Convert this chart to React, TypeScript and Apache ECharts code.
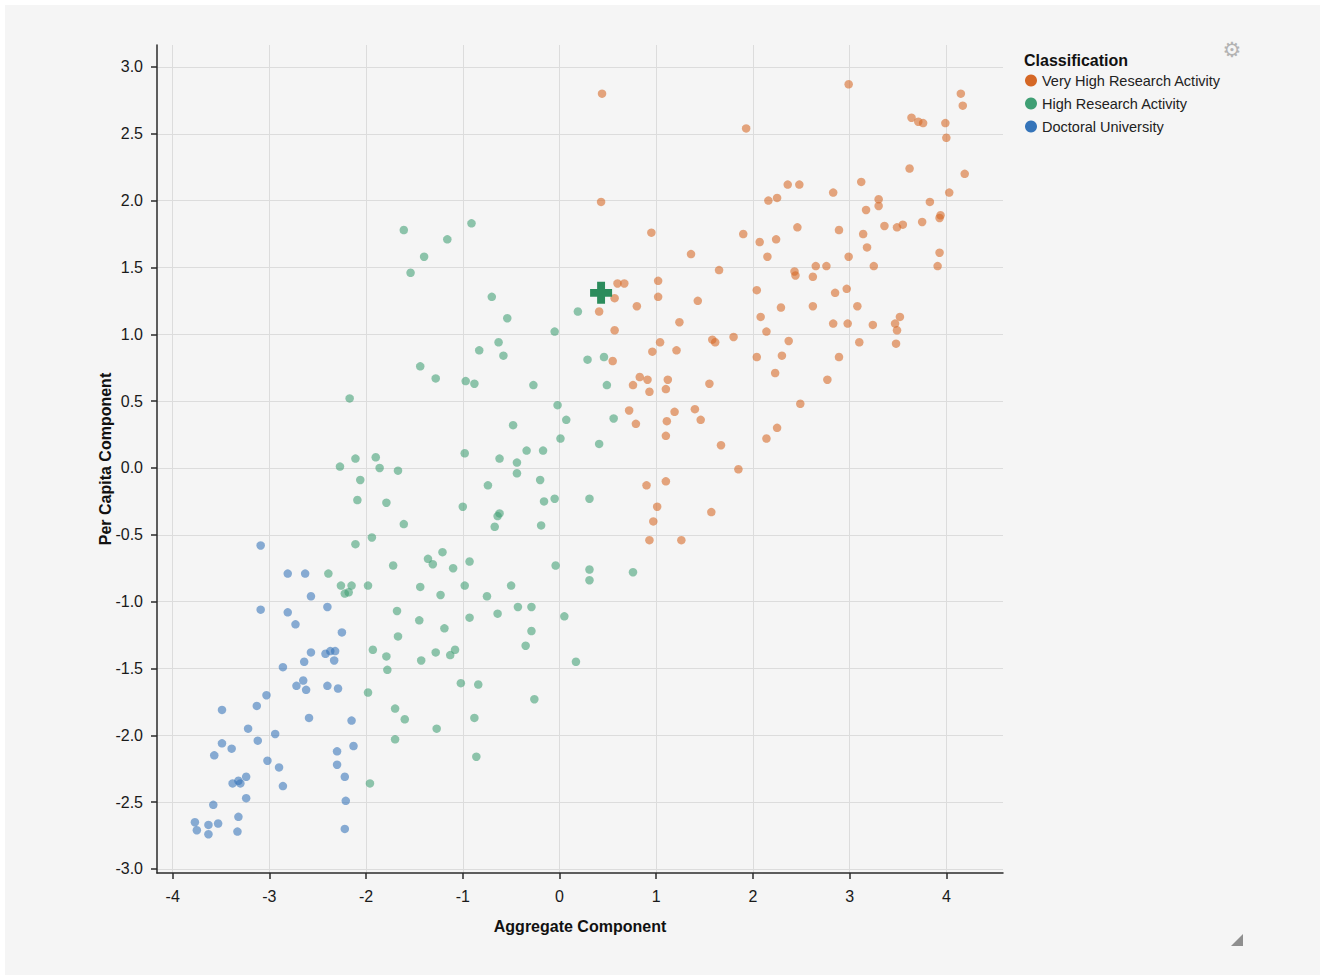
import React, { useEffect, useRef } from "react";
import * as echarts from "echarts";

const categories = ["Very High Research Activity", "High Research Activity", "Doctoral University"];

const xRange = [-4.162, 4.586];
const yRange = [-3.03, 3.164];

const veryHighX = [
  0.44, 2.99, 1.93, 0.43, 2.36, 2.48, 2.83, 2.16, 2.25, 3.12, 0.95, 1.9, 2.07, 2.24, 2.46, 2.89, 1.36, 2.15, 2.99, 1.65,
  2.43, 2.44, 2.65, 2.76, 2.62, 0.6, 0.67, 1.02, 0.57, 1.02, 0.8, 1.43, 2.04, 2.85, 2.97, 0.41, 2.29, 2.62, 3.08,
  0.57, 1.24, 2.08, 2.14, 2.83, 2.98, 3.1, 1.04, 1.58, 1.61, 1.8, 2.37, 0.96, 1.21, 0.55, 2.04, 2.3, 2.89, 2.23, 2.77,
  0.83, 0.91, 0.76, 1.12, 1.1, 0.93, 1.55, 2.49, 0.72, 0.79, 1.19, 1.4, 1.46, 1.11, 1.1, 2.25, 2.14, 1.67, 1.85, 0.9,
  1.1, 1.01, 1.57, 0.97, 0.93, 1.26,
  4.15, 4.17, 3.64, 3.71, 3.76, 3.99, 4.0, 3.62, 4.19, 4.03, 3.3, 3.3, 3.17, 3.83, 3.75, 3.93, 3.94, 3.36, 3.49, 3.55,
  3.14, 3.18, 3.93, 3.25, 3.91, 3.24, 3.47, 3.52, 3.49, 3.48,
];
const veryHighY = [
  2.8, 2.87, 2.54, 1.99, 2.12, 2.12, 2.06, 2.0, 2.02, 2.14, 1.76, 1.75, 1.69, 1.71, 1.8, 1.78, 1.6, 1.58, 1.58, 1.48,
  1.47, 1.44, 1.51, 1.51, 1.43, 1.38, 1.38, 1.4, 1.27, 1.28, 1.21, 1.25, 1.33, 1.31, 1.34, 1.17, 1.2, 1.21, 1.21,
  1.03, 1.09, 1.13, 1.02, 1.08, 1.08, 0.94, 0.94, 0.96, 0.94, 0.98, 0.95, 0.87, 0.88, 0.8, 0.83, 0.84, 0.83, 0.71, 0.66,
  0.68, 0.66, 0.62, 0.66, 0.59, 0.57, 0.63, 0.48, 0.43, 0.33, 0.42, 0.44, 0.36, 0.35, 0.24, 0.3, 0.22, 0.17, -0.01, -0.13,
  -0.1, -0.29, -0.33, -0.4, -0.54, -0.54,
  2.8, 2.71, 2.62, 2.59, 2.58, 2.58, 2.47, 2.24, 2.2, 2.06, 2.01, 1.96, 1.93, 1.99, 1.84, 1.87, 1.89, 1.81, 1.8, 1.82,
  1.75, 1.65, 1.61, 1.51, 1.51, 1.07, 1.08, 1.13, 1.03, 0.93,
];

const highX = [
  -2.09, -1.79, -1.61, -1.94, -2.11, -1.72, -1.36, -1.31, -1.21, -2.39, -2.26, -2.15, -2.22, -2.18, -1.98, -1.44, -1.23,
  -1.68, -1.45, -1.19, -1.67, -1.93, -1.79, -1.43, -1.28, -1.78, -1.98, -1.7, -1.6, -1.27, -1.7, -1.96,
  -2.27, -2.11, -1.9, -1.86, -1.67, -2.06, -0.98, -0.74, -0.62, -0.44, -0.44, -0.34, -0.17, -0.2, 0.01, 0.41,
  -1.61, -0.91, -1.16, -1.4, -1.54, -0.7, -0.54, -0.05, 0.19, -0.63, -0.83, -0.58, -1.44, -1.28, -0.97, -0.88, -0.27,
  0.29, 0.46, 0.49, -2.17, -0.02, 0.07, -0.48, 0.56,
  -1.0, -0.62, -0.64, -0.67, -0.16, -0.05, 0.31, -0.19, -0.93, -1.1, -0.04, 0.31, 0.31, -0.98, -0.5, -0.75, -0.93,
  -0.64, -0.43, -0.29, 0.05, -0.29, -0.35, -1.13, -1.08, 0.17, -1.02, -0.84, -0.26, -0.88, -0.86, 0.76,
];
const highY = [
  -0.24, -0.26, -0.42, -0.52, -0.57, -0.73, -0.68, -0.72, -0.63, -0.79, -0.88, -0.88, -0.94, -0.93, -0.88, -0.89, -0.95,
  -1.07, -1.14, -1.2, -1.26, -1.36, -1.41, -1.44, -1.38, -1.51, -1.68, -1.8, -1.88, -1.95, -2.03, -2.36,
  0.01, 0.07, 0.08, 0.0, -0.02, -0.09, 0.11, -0.13, 0.07, 0.04, -0.04, 0.13, 0.13, -0.09, 0.22, 0.18,
  1.78, 1.83, 1.71, 1.58, 1.46, 1.28, 1.12, 1.02, 1.17, 0.94, 0.88, 0.84, 0.76, 0.67, 0.65, 0.63, 0.62,
  0.81, 0.83, 0.62, 0.52, 0.47, 0.36, 0.32, 0.37,
  -0.29, -0.34, -0.36, -0.44, -0.25, -0.23, -0.23, -0.43, -0.7, -0.75, -0.73, -0.76, -0.84, -0.88, -0.88, -0.96, -1.12,
  -1.09, -1.04, -1.04, -1.11, -1.22, -1.33, -1.4, -1.36, -1.45, -1.61, -1.62, -1.73, -1.87, -2.16, -0.78,
];

const doctoralX = [
  -3.09, -2.81, -2.63, -2.57, -3.09, -2.81, -2.73, -2.4, -2.25, -2.57, -2.64, -2.86, -2.42, -2.37, -2.32, -2.33, -2.65,
  -2.72, -2.62, -2.4, -2.29, -3.03, -3.13, -3.49, -2.59, -2.15, -3.22, -3.12, -2.94, -3.49, -3.39, -3.57, -2.13, -2.3,
  -3.02, -2.9, -2.3, -2.22, -3.38, -3.32, -3.3, -3.24, -2.86, -3.24, -2.21, -3.58, -3.32, -3.77, -3.63, -3.53, -3.75,
  -3.63, -3.33, -2.22,
];
const doctoralY = [
  -0.58, -0.79, -0.79, -0.96, -1.06, -1.08, -1.17, -1.04, -1.23, -1.38, -1.45, -1.49, -1.39, -1.37, -1.37, -1.44, -1.59,
  -1.63, -1.66, -1.63, -1.65, -1.7, -1.78, -1.81, -1.87, -1.89, -1.95, -2.04, -1.99, -2.06, -2.1, -2.15, -2.08, -2.12,
  -2.19, -2.24, -2.22, -2.31, -2.36, -2.34, -2.36, -2.31, -2.38, -2.47, -2.49, -2.52, -2.61, -2.65, -2.67, -2.66, -2.71,
  -2.74, -2.72, -2.7,
];

const highlightPoint = [0.43, 1.31];

const FONT = "'Liberation Sans', Arial, Helvetica, sans-serif";
const zip = (xs: number[], ys: number[]) => xs.map((x, i) => [x, ys[i]]);
const CROSS = "path://M6.4,0H13.6V6.4H20V13.6H13.6V20H6.4V13.6H0V6.4H6.4Z";

export default function App() {
  const ref = useRef<HTMLDivElement>(null);
  useEffect(() => {
    document.body.style.margin = "0";
    const chart = echarts.init(ref.current!, null, { renderer: "svg" });
    const axisLineStyle = { color: "#2a2a2a", width: 1.5 };
    const option: any = {
      animation: false,
      backgroundColor: "transparent",
      textStyle: { fontFamily: FONT },
      grid: { left: 152, top: 40, width: 846, height: 828, containLabel: false, outerBoundsMode: "none" },
      xAxis: {
        type: "value",
        min: xRange[0],
        max: xRange[1],
        splitNumber: 8,
        minInterval: 1,
        maxInterval: 1,
        name: "Aggregate Component",
        nameLocation: "middle",
        nameGap: 45,
        nameMoveOverlap: false,
        nameTextStyle: { fontSize: 16, fontWeight: "bold", color: "#111", fontFamily: FONT },
        axisLine: { show: true, onZero: false, lineStyle: axisLineStyle },
        axisTick: { show: true, length: 6, lineStyle: axisLineStyle },
        axisLabel: {
          showMinLabel: false,
          showMaxLabel: false,
          fontSize: 16,
          color: "#1a1a1a",
          margin: 15,
          fontFamily: FONT,
          formatter: (v: number) => String(Math.round(v)),
        },
        splitLine: { show: true, showMinLine: false, showMaxLine: false, lineStyle: { color: "#dcdcdc", width: 1 } },
      },
      yAxis: {
        type: "value",
        min: yRange[0],
        max: yRange[1],
        splitNumber: 12,
        minInterval: 0.5,
        maxInterval: 0.5,
        name: "Per Capita Component",
        nameLocation: "middle",
        nameGap: 44,
        nameRotate: 90,
        nameMoveOverlap: false,
        nameTextStyle: { fontSize: 16, fontWeight: "bold", color: "#111", fontFamily: FONT },
        axisLine: { show: true, onZero: false, lineStyle: axisLineStyle },
        axisTick: { show: true, length: 6, lineStyle: axisLineStyle },
        axisLabel: {
          showMinLabel: false,
          showMaxLabel: false,
          fontSize: 16,
          color: "#1a1a1a",
          margin: 14,
          fontFamily: FONT,
          formatter: (v: number) => v.toFixed(1),
        },
        splitLine: { show: true, showMinLine: false, showMaxLine: false, lineStyle: { color: "#dcdcdc", width: 1 } },
      },
      legend: {
        data: categories,
        orient: "vertical",
        left: 1020,
        top: 68,
        padding: 0,
        itemGap: 8,
        itemWidth: 12,
        itemHeight: 12,
        icon: "circle",
        selectedMode: false,
        itemStyle: { opacity: 1 },
        textStyle: { fontSize: 14.5, color: "#222", fontFamily: FONT },
      },
      graphic: [
        {
          type: "text",
          x: 1019,
          y: 55,
          style: { text: "Classification", font: `bold 16px ${FONT}`, fill: "#111", verticalAlign: "middle" },
        },
        {
          type: "text",
          x: 1227,
          y: 45,
          style: {
            text: "\u2699",
            fontSize: 21,
            fontFamily: "DejaVu Sans",
            fill: "#b3b3b3",
            align: "center",
            verticalAlign: "middle",
          },
        },
        {
          type: "polygon",
          shape: { points: [[1238, 929], [1238, 941], [1226, 941]] },
          style: { fill: "#8f8f8f" },
        },
      ],
      series: [
        {
          name: categories[0],
          type: "scatter",
          data: zip(veryHighX, veryHighY),
          symbolSize: 8.5,
          itemStyle: { color: "#d56725", opacity: 0.58 },
          emphasis: { disabled: true },
        },
        {
          name: categories[1],
          type: "scatter",
          data: zip(highX, highY),
          symbolSize: 8.5,
          itemStyle: { color: "#3f9f74", opacity: 0.58 },
          emphasis: { disabled: true },
        },
        {
          name: categories[2],
          type: "scatter",
          data: zip(doctoralX, doctoralY),
          symbolSize: 8.5,
          itemStyle: { color: "#3574b9", opacity: 0.58 },
          emphasis: { disabled: true },
        },
        {
          name: "Selected",
          type: "scatter",
          data: [highlightPoint],
          symbol: CROSS,
          symbolSize: 22,
          z: 5,
          itemStyle: { color: "#2c8c5c", opacity: 1 },
          emphasis: { disabled: true },
        },
      ],
    };
    chart.setOption(option);
    return () => chart.dispose();
  }, []);
  return (
    <div style={{ position: "absolute", left: 0, top: 0, width: 1320, height: 975, background: "#ffffff" }}>
      <div
        ref={ref}
        style={{ position: "absolute", left: 5, top: 5, width: 1315, height: 970, background: "#f5f5f5" }}
      />
    </div>
  );
}
